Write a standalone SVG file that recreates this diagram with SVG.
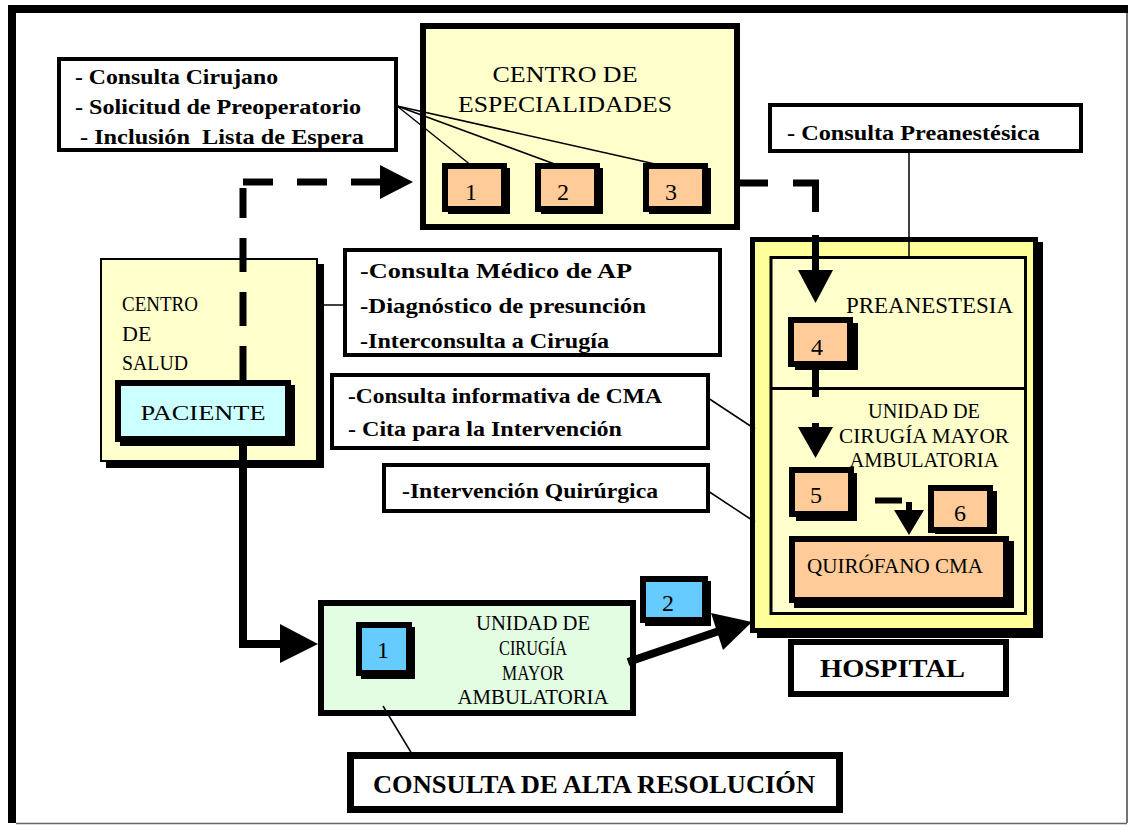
<svg xmlns="http://www.w3.org/2000/svg" width="1128" height="825" viewBox="0 0 1128 825">
<defs>
<style>
.t{font-family:"Liberation Serif","Times New Roman",serif;fill:#000}
.b{font-weight:bold}
.wb{fill:#fff;stroke:#000;stroke-width:4}
.sh{fill:#000}
.or{fill:#FFCC99;stroke:#000;stroke-width:6}
.bl{fill:#66CCFF;stroke:#000;stroke-width:6}
.thin{stroke:#000;stroke-width:1.5;fill:none}
.dash{stroke:#000;stroke-width:7;fill:none;stroke-linecap:butt}
.bold{stroke:#000;stroke-width:8;fill:none}
</style>
</defs>
<rect x="0" y="0" width="1128" height="825" fill="#fff"/>
<g id="frame">
<line x1="8" y1="9" x2="1128" y2="9" stroke="#000" stroke-width="8"/>
<line x1="12" y1="5" x2="12" y2="823" stroke="#000" stroke-width="8"/>
<line x1="1127" y1="13" x2="1127" y2="823" stroke="#444" stroke-width="1.5"/>
<line x1="16" y1="823.5" x2="1127" y2="823.5" stroke="#666" stroke-width="1.5"/>
</g>

<g id="centro-especialidades">
<rect x="423" y="26" width="314" height="201" fill="#FFFFCC" stroke="#000" stroke-width="6"/>
<text class="t" x="565" y="82" font-size="24" text-anchor="middle" textLength="145" lengthAdjust="spacingAndGlyphs">CENTRO DE</text>
<text class="t" x="565" y="112" font-size="24" text-anchor="middle" textLength="214" lengthAdjust="spacingAndGlyphs">ESPECIALIDADES</text>
</g>
<g id="esp-1">
<rect class="sh" x="448" y="168" width="62" height="46"/>
<rect class="or" x="445" y="166" width="59" height="43"/>
<text class="t" x="471" y="200" font-size="24" text-anchor="middle">1</text>
</g>
<g id="esp-2">
<rect class="sh" x="541" y="168" width="62" height="46"/>
<rect class="or" x="538" y="166" width="59" height="43"/>
<text class="t" x="563" y="200" font-size="24" text-anchor="middle">2</text>
</g>
<g id="esp-3">
<rect class="sh" x="649" y="168" width="62" height="46"/>
<rect class="or" x="646" y="166" width="59" height="43"/>
<text class="t" x="671" y="200" font-size="24" text-anchor="middle">3</text>
</g>

<g id="nota-cirujano">
<rect class="wb" x="59" y="59" width="337" height="91"/>
<text class="t b" x="75" y="84" font-size="22" textLength="203" lengthAdjust="spacingAndGlyphs">- Consulta Cirujano</text>
<text class="t b" x="75" y="114" font-size="22" textLength="286" lengthAdjust="spacingAndGlyphs">- Solicitud de Preoperatorio</text>
<text class="t b" x="80" y="144" font-size="22" textLength="284" lengthAdjust="spacingAndGlyphs" xml:space="preserve">- Inclusión  Lista de Espera</text>
</g>

<g id="nota-preanestesica">
<rect class="wb" x="770" y="105" width="311" height="46"/>
<text class="t b" x="787" y="140" font-size="22" textLength="253" lengthAdjust="spacingAndGlyphs">- Consulta Preanestésica</text>
</g>

<g id="centro-salud">
<rect class="sh" x="106" y="264" width="218" height="204"/>
<rect x="101" y="259" width="216" height="202" fill="#FFFFCC" stroke="#000" stroke-width="2"/>
<text class="t" x="122" y="311" font-size="22" textLength="76" lengthAdjust="spacingAndGlyphs">CENTRO</text>
<text class="t" x="122" y="341" font-size="22">DE</text>
<text class="t" x="122" y="370" font-size="22" textLength="66" lengthAdjust="spacingAndGlyphs">SALUD</text>
</g>
<g id="paciente">
<rect class="sh" x="120" y="385" width="175" height="61"/>
<rect x="118" y="383" width="170" height="56" fill="#CCFFFF" stroke="#000" stroke-width="6"/>
<text class="t" x="203" y="420" font-size="22" text-anchor="middle" textLength="125" lengthAdjust="spacingAndGlyphs">PACIENTE</text>
</g>

<g id="nota-ap">
<rect class="wb" x="345" y="250" width="375" height="105"/>
<text class="t b" x="360" y="278" font-size="21" textLength="272" lengthAdjust="spacingAndGlyphs">-Consulta Médico de AP</text>
<text class="t b" x="360" y="313" font-size="21" textLength="286" lengthAdjust="spacingAndGlyphs">-Diagnóstico de presunción</text>
<text class="t b" x="360" y="348" font-size="21" textLength="249" lengthAdjust="spacingAndGlyphs">-Interconsulta a Cirugía</text>
</g>

<g id="nota-cma">
<rect class="wb" x="332" y="375" width="376" height="73"/>
<text class="t b" x="348" y="403" font-size="21" textLength="314" lengthAdjust="spacingAndGlyphs">-Consulta informativa de CMA</text>
<text class="t b" x="348" y="436" font-size="21" textLength="274" lengthAdjust="spacingAndGlyphs">- Cita para la Intervención</text>
</g>

<g id="nota-intervencion">
<rect class="wb" x="384" y="465" width="324" height="46"/>
<text class="t b" x="402" y="498" font-size="21" textLength="256" lengthAdjust="spacingAndGlyphs">-Intervención Quirúrgica</text>
</g>

<g id="hospital">
<rect class="sh" x="757" y="242" width="286" height="396"/>
<rect x="752.5" y="239.5" width="283" height="391" fill="#FFFF99" stroke="#000" stroke-width="5"/>
<rect x="771" y="257.5" width="254.5" height="356" fill="#FFFFCC" stroke="#000" stroke-width="3"/>
<line x1="771" y1="388.5" x2="1025.5" y2="388.5" stroke="#000" stroke-width="3"/>
<text class="t" x="846" y="313" font-size="23" textLength="167" lengthAdjust="spacingAndGlyphs">PREANESTESIA</text>
<text class="t" x="924" y="418" font-size="20" text-anchor="middle" textLength="112" lengthAdjust="spacingAndGlyphs">UNIDAD DE</text>
<text class="t" x="924" y="443" font-size="20" text-anchor="middle" textLength="170" lengthAdjust="spacingAndGlyphs">CIRUGÍA MAYOR</text>
<text class="t" x="924" y="467" font-size="20" text-anchor="middle" textLength="149" lengthAdjust="spacingAndGlyphs">AMBULATORIA</text>
</g>
<g id="paso-4">
<rect class="sh" x="795" y="323" width="63" height="47"/>
<rect class="or" x="791" y="320" width="59" height="44"/>
<text class="t" x="817" y="355" font-size="24" text-anchor="middle">4</text>
</g>
<g id="paso-5">
<rect class="sh" x="796" y="473" width="61" height="48"/>
<rect class="or" x="792" y="470" width="59" height="44"/>
<text class="t" x="816" y="503" font-size="24" text-anchor="middle">5</text>
</g>
<g id="paso-6">
<rect class="sh" x="935" y="491" width="62" height="43"/>
<rect class="or" x="931" y="488" width="59" height="42"/>
<text class="t" x="960" y="521" font-size="24" text-anchor="middle">6</text>
</g>
<g id="quirofano">
<rect class="sh" x="794" y="541" width="220" height="67"/>
<rect class="or" x="792" y="539" width="214" height="61"/>
<text class="t" x="807" y="573" font-size="20" textLength="176" lengthAdjust="spacingAndGlyphs">QUIRÓFANO CMA</text>
</g>
<g id="hospital-label">
<rect x="791" y="642" width="215" height="52" fill="#fff" stroke="#000" stroke-width="6"/>
<text class="t b" x="820" y="677" font-size="26" textLength="145" lengthAdjust="spacingAndGlyphs">HOSPITAL</text>
</g>

<g id="unidad-cma">
<rect x="321" y="603" width="312" height="110" fill="#E2FDE2" stroke="#000" stroke-width="6"/>
<text class="t" x="533" y="630" font-size="20" text-anchor="middle" textLength="114" lengthAdjust="spacingAndGlyphs">UNIDAD DE</text>
<text class="t" x="533" y="655" font-size="20" text-anchor="middle" textLength="68" lengthAdjust="spacingAndGlyphs">CIRUGÍA</text>
<text class="t" x="533" y="680" font-size="20" text-anchor="middle" textLength="62" lengthAdjust="spacingAndGlyphs">MAYOR</text>
<text class="t" x="533" y="704" font-size="20" text-anchor="middle" textLength="151" lengthAdjust="spacingAndGlyphs">AMBULATORIA</text>
</g>
<g id="cma-1">
<rect class="sh" x="361" y="627" width="54" height="52"/>
<rect class="bl" x="359" y="625" width="50" height="48"/>
<text class="t" x="383" y="658" font-size="24" text-anchor="middle">1</text>
</g>
<g id="cma-2">
<rect class="sh" x="645" y="581" width="66" height="45"/>
<rect class="bl" x="643" y="579" width="62" height="41"/>
<text class="t" x="668" y="611" font-size="24" text-anchor="middle">2</text>
</g>

<g id="consulta-alta">
<rect x="350.5" y="755.5" width="489" height="54" fill="#fff" stroke="#000" stroke-width="7"/>
<text class="t b" x="373" y="793" font-size="25" textLength="442" lengthAdjust="spacingAndGlyphs">CONSULTA DE ALTA RESOLUCIÓN</text>
</g>

<g id="connectors">
<line class="thin" x1="397" y1="106" x2="472" y2="166"/>
<line class="thin" x1="397" y1="106" x2="560" y2="166"/>
<line class="thin" x1="397" y1="106" x2="664" y2="166"/>
<line class="thin" x1="909" y1="153" x2="909" y2="257"/>
<line class="thin" x1="322" y1="305" x2="345" y2="305"/>
<line class="thin" x1="708" y1="398" x2="755" y2="429"/>
<line class="thin" x1="708" y1="491" x2="755" y2="522"/>
<line class="thin" x1="383" y1="706" x2="412" y2="754"/>

<path class="dash" d="M243,380 V188" stroke-dasharray="34 20"/>
<path class="dash" d="M243,182 H382" stroke-dasharray="30 24"/>
<polygon points="380,165 413,182 380,199"/>

<path class="dash" d="M740,183 H768 M793,183 H815.5 V212 M815.5,235 V270"/>
<polygon points="798,270 833,270 815.5,303"/>

<path class="dash" d="M815.5,367 V397 M815.5,423 V430"/>
<polygon points="798,427 833,427 815.5,458"/>

<path d="M875,500.5 H902 M909,502 V512" stroke="#000" stroke-width="6" fill="none"/>
<polygon points="894,510 924,510 909,535"/>

<path class="bold" d="M243,443 V644 H286"/>
<polygon points="280,624 318,644 280,663"/>

<line x1="628" y1="662" x2="722" y2="630" stroke="#000" stroke-width="8"/>
<polygon points="711,613 752,622 723,650"/>
</g>
</svg>
